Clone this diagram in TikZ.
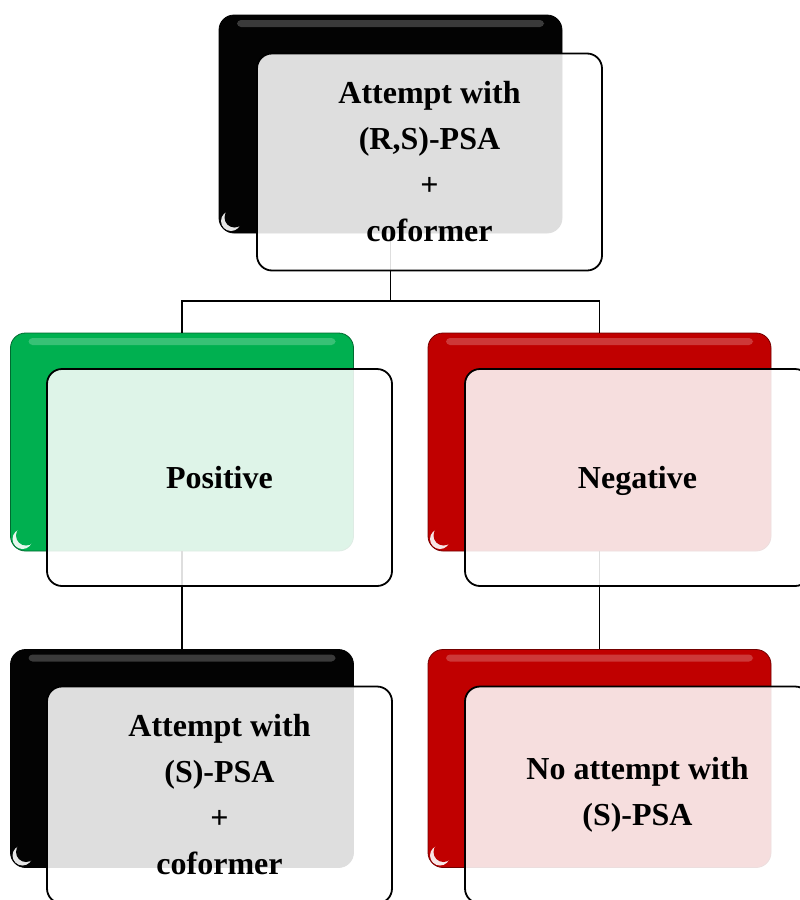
\documentclass[tikz,border=0pt]{standalone}
\usepackage{fontspec}
\setmainfont{Liberation Serif}
\definecolor{pgreen}{HTML}{00B050}
\definecolor{pred}{HTML}{C00000}
\definecolor{pblack}{HTML}{030303}
\tikzset{
  backbox/.style={rounded corners=15pt, minimum width=343pt, minimum height=218pt,
    inner sep=0pt, fill=#1, draw=#1!60!black, line width=0.8pt,
    path picture={
      \fill[white,opacity=0.22,rounded corners=4pt]
        ([xshift=18pt,yshift=-5pt]path picture bounding box.north west) rectangle
        ([xshift=-18pt,yshift=-12pt]path picture bounding box.north east);
      \fill[white,opacity=0.9] ([xshift=12pt,yshift=12pt]path picture bounding box.south west) circle (10pt);
      \fill[#1] ([xshift=15.5pt,yshift=15.5pt]path picture bounding box.south west) circle (10pt);
    }},
  frontbox/.style={rounded corners=15pt, minimum width=345pt, minimum height=217pt,
    inner sep=0pt, draw=black, line width=1.8pt, fill=white, fill opacity=0.87,
    text opacity=1, align=center, font=\fontsize{32}{46}\selectfont\bfseries},
  oneline/.style={text height=30pt, text depth=9pt},
  link/.style={draw=black, line width=1.9pt}
}
\begin{document}
\begin{tikzpicture}[x=1pt,y=-1pt]
\fill[white] (0,0) rectangle (800,900);
\useasboundingbox (0,0) rectangle (800,900);
% back boxes
\node[backbox=pblack] (tb) at (390.5,124) {};
\node[backbox=pgreen] (mlb) at (182,442) {};
\node[backbox=pred] (mrb) at (599.5,442) {};
\node[backbox=pblack] (blb) at (182,758.5) {};
\node[backbox=pred] (brb) at (599.5,758.5) {};
% connectors
\coordinate (j) at (390.5,301);
\draw[link] (tb.south) -- (j);
\draw[link] (mlb.north) |- (j) -| (mrb.north);
\draw[link] (mlb.south) -- (blb.north);
\draw[link] (mrb.south) -- (brb.north);
% front boxes
\node[frontbox] (tf) at (429.5,162) {Attempt with\\(R,S)-PSA\\+\\coformer};
\node[frontbox,oneline] (mlf) at (219.5,477.5) {Positive};
\node[frontbox,oneline] (mrf) at (637.5,477.5) {Negative};
\node[frontbox] (blf) at (219.5,795) {Attempt with\\(S)-PSA\\+\\coformer};
\node[frontbox] (brf) at (637.5,795) {No attempt with\\(S)-PSA};
\end{tikzpicture}
\end{document}
